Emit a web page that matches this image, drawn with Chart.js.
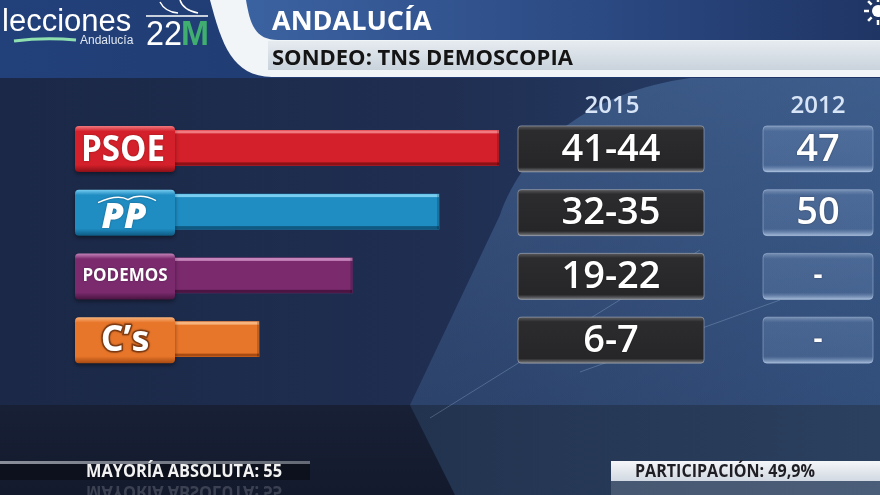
<!DOCTYPE html>
<html lang="es">
<head>
  <meta charset="UTF-8" />
  <title>Elecciones Andalucía 22M - Sondeo TNS Demoscopia</title>
  <script src="https://cdn.jsdelivr.net/npm/chart.js"></script>
  <style>
    html, body { margin: 0; padding: 0; background: #1c2a4a; overflow: hidden; }
    canvas { display: block; }
  </style>
</head>
<body>
  <canvas id="sondeo" width="880" height="495"></canvas>
  <script>
    // datos del sondeo
    const parties = ['PSOE', 'PP', 'PODEMOS', 'C\u2019s'];
    const seats2015Low = [41, 32, 19, 6];
    const seats2015High = [44, 35, 22, 7];
    const seats2012 = [47, 50, null, null];
    const yearLabels = ['2015', '2012'];
    const mayoriaAbsoluta = 55;
    const participacion = '49,9%';

    // colores de cada partido (barra, parte alta, parte baja)
    const partyColors = ['#d3202a', '#1f8cc2', '#7a2a6d', '#e8762a'];
    const partyLight = ['#f07a80', '#78cdf0', '#c585bb', '#f7b47e'];
    const partyDark = ['#8c1016', '#0f5a82', '#4a1542', '#a84b12'];

    const barValues = seats2015Low.map((lo, i) => (lo + seats2015High[i]) / 2);
    const AXIS_MIN = -6.1;
    const FONT = '"Open Sans", "DejaVu Sans", sans-serif';

    function rr(ctx, x, y, w, h, r) {
      ctx.beginPath();
      ctx.moveTo(x + r, y);
      ctx.lineTo(x + w - r, y);
      ctx.quadraticCurveTo(x + w, y, x + w, y + r);
      ctx.lineTo(x + w, y + h - r);
      ctx.quadraticCurveTo(x + w, y + h, x + w - r, y + h);
      ctx.lineTo(x + r, y + h);
      ctx.quadraticCurveTo(x, y + h, x, y + h - r);
      ctx.lineTo(x, y + r);
      ctx.quadraticCurveTo(x, y, x + r, y);
      ctx.closePath();
    }

    function drawBackground(ctx) {
      let g = ctx.createLinearGradient(0, 0, 880, 0);
      g.addColorStop(0, '#1b2847');
      g.addColorStop(0.5, '#1f2e51');
      g.addColorStop(1, '#2a436e');
      ctx.fillStyle = g;
      ctx.fillRect(0, 0, 880, 495);

      // panel claro a la derecha
      ctx.beginPath();
      ctx.moveTo(690, 78);
      ctx.bezierCurveTo(590, 92, 525, 145, 500, 215);
      ctx.lineTo(410, 405);
      ctx.lineTo(880, 405);
      ctx.lineTo(880, 78);
      ctx.closePath();
      g = ctx.createLinearGradient(0, 78, 0, 405);
      g.addColorStop(0, 'rgba(78,115,165,0.55)');
      g.addColorStop(1, 'rgba(60,92,138,0.45)');
      ctx.fillStyle = g;
      ctx.fill();

      // zona inferior
      g = ctx.createLinearGradient(0, 405, 0, 495);
      g.addColorStop(0, '#182036');
      g.addColorStop(1, '#131a2d');
      ctx.fillStyle = g;
      ctx.fillRect(0, 405, 880, 90);
      ctx.beginPath();
      ctx.moveTo(410, 405);
      ctx.lineTo(880, 405);
      ctx.lineTo(880, 495);
      ctx.lineTo(455, 495);
      ctx.closePath();
      g = ctx.createLinearGradient(410, 0, 880, 0);
      g.addColorStop(0, '#22334f');
      g.addColorStop(1, '#2b405f');
      ctx.fillStyle = g;
      ctx.fill();

      // destellos
      ctx.strokeStyle = 'rgba(170,200,235,0.28)';
      ctx.lineWidth = 1;
      ctx.beginPath();
      ctx.moveTo(580, 372); ctx.lineTo(780, 300);
      ctx.moveTo(430, 418); ctx.lineTo(700, 250);
      ctx.stroke();
    }

    function drawHeader(ctx) {
      let g = ctx.createLinearGradient(0, 0, 880, 0);
      g.addColorStop(0, '#22407a');
      g.addColorStop(1, '#1e3566');
      ctx.fillStyle = g;
      ctx.fillRect(0, 0, 880, 78);

      // banda blanca curva
      ctx.fillStyle = '#f2f5f8';
      ctx.beginPath();
      ctx.moveTo(210, 0);
      ctx.bezierCurveTo(222, 45, 232, 76, 272, 77);
      ctx.lineTo(880, 77);
      ctx.lineTo(880, 0);
      ctx.closePath();
      ctx.fill();

      // franja gris
      g = ctx.createLinearGradient(0, 41, 0, 70);
      g.addColorStop(0, '#e6ebf0');
      g.addColorStop(1, '#c9d3dc');
      ctx.fillStyle = g;
      ctx.fillRect(268, 41, 612, 29);

      // zona azul del título
      g = ctx.createLinearGradient(250, 0, 880, 0);
      g.addColorStop(0, '#3b62a0');
      g.addColorStop(0.6, '#2a4780');
      g.addColorStop(1, '#1f3564');
      ctx.fillStyle = g;
      ctx.beginPath();
      ctx.moveTo(246, 0);
      ctx.bezierCurveTo(250, 24, 255, 40, 278, 40);
      ctx.lineTo(880, 40);
      ctx.lineTo(880, 0);
      ctx.closePath();
      ctx.fill();

      ctx.textBaseline = 'alphabetic';
      ctx.textAlign = 'left';
      ctx.fillStyle = '#ffffff';
      ctx.font = 'bold 27px ' + FONT;
      ctx.fillText('ANDALUCÍA', 272, 30, 180);
      ctx.fillStyle = '#141414';
      ctx.font = 'bold 22px ' + FONT;
      ctx.fillText('SONDEO: TNS DEMOSCOPIA', 272, 65, 334);

      // logo
      ctx.fillStyle = '#ffffff';
      ctx.font = '31px "Liberation Sans", Arial, sans-serif';
      ctx.fillText('lecciones', 2, 31, 137);
      ctx.strokeStyle = '#8fe0b0';
      ctx.lineWidth = 3;
      ctx.beginPath();
      ctx.moveTo(14, 41);
      ctx.quadraticCurveTo(45, 37, 76, 40);
      ctx.stroke();
      ctx.fillStyle = '#dfe7f0';
      ctx.font = '12px "Liberation Sans", Arial, sans-serif';
      ctx.fillText('Andalucía', 80, 44, 58);
      ctx.font = '35px "Liberation Sans", Arial, sans-serif';
      ctx.fillStyle = '#ffffff';
      ctx.fillText('22', 146, 45, 36);
      ctx.fillStyle = '#3fae6e';
      ctx.font = 'bold 35px "Liberation Sans", Arial, sans-serif';
      ctx.fillText('M', 181, 45, 28);
      ctx.strokeStyle = '#ffffff';
      ctx.lineWidth = 1.5;
      ctx.beginPath();
      ctx.moveTo(146, 16); ctx.lineTo(208, 16);
      ctx.moveTo(160, 2); ctx.quadraticCurveTo(165, 12, 178, 13);
      ctx.moveTo(180, 0); ctx.quadraticCurveTo(183, 10, 198, 13);
      ctx.stroke();

      // sol
      ctx.fillStyle = '#ffffff';
      ctx.strokeStyle = '#ffffff';
      ctx.lineWidth = 2.5;
      ctx.beginPath();
      ctx.arc(878, 11, 6, 0, Math.PI * 2);
      ctx.fill();
      for (let a = 0; a < 8; a++) {
        const ang = a * Math.PI / 4;
        ctx.beginPath();
        ctx.moveTo(878 + Math.cos(ang) * 9, 11 + Math.sin(ang) * 9);
        ctx.lineTo(878 + Math.cos(ang) * 14, 11 + Math.sin(ang) * 14);
        ctx.stroke();
      }
    }

    function drawPartyBox(ctx, i, cy) {
      const x = 75, w = 100, h = 46, y = cy - h / 2 + 1;
      const g = ctx.createLinearGradient(0, y, 0, y + h);
      g.addColorStop(0, partyLight[i]);
      g.addColorStop(0.12, partyColors[i]);
      g.addColorStop(0.85, partyColors[i]);
      g.addColorStop(1, partyDark[i]);
      ctx.save();
      ctx.shadowColor = 'rgba(0,0,0,0.45)';
      ctx.shadowBlur = 4;
      ctx.shadowOffsetY = 2;
      rr(ctx, x, y, w, h, 4);
      ctx.fillStyle = g;
      ctx.fill();
      ctx.restore();

      ctx.save();
      ctx.textAlign = 'center';
      ctx.textBaseline = 'middle';
      ctx.fillStyle = '#ffffff';
      ctx.shadowColor = 'rgba(0,0,0,0.35)';
      ctx.shadowBlur = 2;
      const name = parties[i];
      if (name === 'PSOE') {
        ctx.font = 'bold 35px ' + FONT;
        ctx.fillText(name, 123, cy + 3, 84);
      } else if (name === 'PP') {
        ctx.font = 'italic 900 36px ' + FONT;
        ctx.fillText(name, 124, cy + 6, 84);
        ctx.strokeStyle = '#ffffff';
        ctx.lineWidth = 1.5;
        ctx.beginPath();
        ctx.moveTo(98, cy - 9);
        ctx.quadraticCurveTo(118, cy - 18, 128, cy - 12);
        ctx.quadraticCurveTo(140, cy - 19, 156, cy - 11);
        ctx.stroke();
      } else if (name === 'PODEMOS') {
        ctx.font = 'bold 17px ' + FONT;
        ctx.fillText(name, 125, cy + 1, 90);
      } else {
        ctx.font = 'bold 36px ' + FONT;
        ctx.lineWidth = 3;
        ctx.strokeStyle = '#8a3f12';
        ctx.strokeText(name, 125, cy + 2, 70);
        ctx.fillText(name, 125, cy + 2, 70);
      }
      ctx.restore();
    }

    function drawValueBoxes(ctx, i, cy) {
      const h = 46, y = cy - h / 2 + 1;
      // 2015
      let g = ctx.createLinearGradient(0, y, 0, y + h);
      g.addColorStop(0, '#5a5a5c');
      g.addColorStop(0.1, '#2c2c2e');
      g.addColorStop(0.9, '#262628');
      g.addColorStop(1, '#7a7c80');
      rr(ctx, 518, y, 186, h, 3);
      ctx.fillStyle = g;
      ctx.fill();
      ctx.strokeStyle = 'rgba(170,175,185,0.6)';
      ctx.lineWidth = 1;
      ctx.stroke();

      // 2012
      g = ctx.createLinearGradient(0, y, 0, y + h);
      g.addColorStop(0, 'rgba(190,210,235,0.5)');
      g.addColorStop(0.12, 'rgba(120,150,195,0.3)');
      g.addColorStop(0.85, 'rgba(110,140,185,0.3)');
      g.addColorStop(1, 'rgba(200,220,245,0.75)');
      rr(ctx, 763, y, 110, h, 4);
      ctx.fillStyle = g;
      ctx.fill();
      ctx.strokeStyle = 'rgba(180,200,230,0.45)';
      ctx.stroke();

      ctx.save();
      ctx.fillStyle = '#ffffff';
      ctx.textAlign = 'center';
      ctx.textBaseline = 'middle';
      ctx.shadowColor = 'rgba(0,0,0,0.4)';
      ctx.shadowBlur = 2;
      ctx.font = '600 38px ' + FONT;
      ctx.fillText(seats2015Low[i] + '-' + seats2015High[i], 611, cy + 2);
      if (seats2012[i] !== null) {
        ctx.fillText(String(seats2012[i]), 818, cy + 2);
      } else {
        ctx.font = 'bold 28px ' + FONT;
        ctx.fillText('-', 818, cy + 1);
      }
      ctx.restore();
    }

    function drawFooter(ctx) {
      // mayoría absoluta
      let g = ctx.createLinearGradient(0, 0, 310, 0);
      g.addColorStop(0, 'rgba(150,155,165,0.9)');
      g.addColorStop(1, 'rgba(120,125,135,0.8)');
      ctx.fillStyle = g;
      ctx.fillRect(0, 461, 310, 3);
      ctx.fillStyle = 'rgba(12,15,26,0.85)';
      ctx.fillRect(0, 464, 310, 16);
      ctx.save();
      ctx.textAlign = 'left';
      ctx.textBaseline = 'middle';
      ctx.font = 'bold 17px ' + FONT;
      ctx.fillStyle = '#f2f2f2';
      const txt = 'MAYORÍA ABSOLUTA: ' + mayoriaAbsoluta;
      ctx.fillText(txt, 86, 472, 196);
      ctx.globalAlpha = 0.18;
      ctx.translate(0, 963);
      ctx.scale(1, -1);
      ctx.fillText(txt, 86, 472, 196);
      ctx.restore();

      // participación
      g = ctx.createLinearGradient(0, 461, 0, 481);
      g.addColorStop(0, '#f4f6f9');
      g.addColorStop(1, '#d2d9e2');
      ctx.fillStyle = g;
      ctx.fillRect(611, 461, 269, 20);
      ctx.fillStyle = 'rgba(190,200,215,0.22)';
      ctx.fillRect(611, 481, 269, 14);
      ctx.save();
      ctx.textAlign = 'left';
      ctx.textBaseline = 'middle';
      ctx.font = 'bold 17px ' + FONT;
      ctx.fillStyle = '#1e1e24';
      ctx.fillText('PARTICIPACIÓN: ' + participacion, 635, 472, 180);
      ctx.restore();
    }

    const broadcastPlugin = {
      id: 'broadcast',
      beforeDraw(chart) {
        const ctx = chart.ctx;
        ctx.save();
        drawBackground(ctx);
        drawHeader(ctx);
        ctx.restore();
      },
      afterDatasetsDraw(chart) {
        const ctx = chart.ctx;
        const yScale = chart.scales.y;
        const meta = chart.getDatasetMeta(0);
        ctx.save();
        // brillo y sombra de las barras
        meta.data.forEach((bar, i) => {
          const p = bar.getProps(['x', 'y', 'base', 'height'], true);
          const top = p.y - p.height / 2;
          const w = p.x - p.base;
          ctx.fillStyle = partyLight[i];
          ctx.fillRect(p.base, top, w, 3);
          ctx.fillStyle = partyDark[i];
          ctx.fillRect(p.base, top + p.height - 3, w, 3);
          ctx.fillStyle = 'rgba(0,0,0,0.18)';
          ctx.fillRect(p.x - 2, top, 2, p.height);
        });

        ctx.textAlign = 'center';
        ctx.textBaseline = 'middle';
        ctx.fillStyle = '#d8e5f6';
        ctx.font = '600 24px ' + FONT;
        ctx.fillText(yearLabels[0], 612, 106);
        ctx.fillText(yearLabels[1], 818, 106);

        parties.forEach((p, i) => {
          const cy = yScale.getPixelForValue(i);
          drawPartyBox(ctx, i, cy);
          drawValueBoxes(ctx, i, cy);
        });
        drawFooter(ctx);
        ctx.restore();
      }
    };

    new Chart(document.getElementById('sondeo'), {
      type: 'bar',
      data: {
        labels: parties,
        datasets: [{
          label: 'Escaños 2015',
          data: barValues,
          backgroundColor: partyColors,
          borderWidth: 0,
          barThickness: 35,
          base: AXIS_MIN
        }]
      },
      options: {
        indexAxis: 'y',
        responsive: false,
        animation: false,
        layout: { padding: { left: 175, right: 381, top: 116, bottom: 124 } },
        plugins: { legend: { display: false }, tooltip: { enabled: false } },
        scales: {
          x: { display: false, min: AXIS_MIN, max: Math.max(...barValues) },
          y: { display: false }
        }
      },
      plugins: [broadcastPlugin]
    });
  </script>
</body>
</html>
